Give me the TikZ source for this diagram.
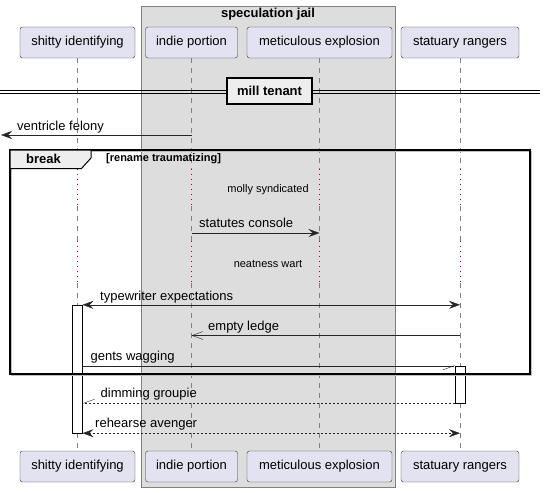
\documentclass[tikz,border=0pt]{standalone}
\usepackage{fontspec}
\setmainfont{Liberation Sans}
\usetikzlibrary{arrows.meta,positioning}
\definecolor{partfill}{HTML}{E2E2F0}
\definecolor{boxfill}{HTML}{DDDDDD}
\definecolor{framefill}{HTML}{EEEEEE}
\definecolor{delayred}{HTML}{A80036}
\tikzstyle{actor} = [rectangle, rounded corners=2.5pt, draw=black!80, fill=partfill, minimum height=31pt, inner xsep=0pt, font=\fontsize{13pt}{15pt}\selectfont]
\tikzstyle{lifeline} = [draw=gray, dash pattern=on 5pt off 5pt]
\tikzstyle{delayline} = [draw=delayred, dash pattern=on 1pt off 4pt]
\tikzstyle{msg} = [draw=black!85, -{Stealth[length=11pt,width=8pt,inset=4pt]}]
\tikzstyle{twoway} = [draw=black!85, {Stealth[length=11pt,width=8pt,inset=4pt]}-{Stealth[length=11pt,width=8pt,inset=4pt]}]
\tikzstyle{openmsg} = [draw=black!85, -{Straight Barb[length=11pt,width=8pt]}]
\tikzstyle{halfmsg} = [draw=black!85, -{Straight Barb[harpoon,swap,length=11pt,width=8pt]}]
\tikzstyle{dotted reply} = [dash pattern=on 2pt off 2pt]
\tikzstyle{lbl} = [anchor=base west, inner sep=0pt, font=\fontsize{13pt}{15pt}\selectfont]
\tikzstyle{delaytext} = [inner sep=0pt, font=\fontsize{11pt}{13pt}\selectfont]
\tikzstyle{actbar} = [rectangle, draw=black, fill=white, minimum width=10pt, inner sep=0pt]

\begin{document}
\begin{tikzpicture}[x=1pt,y=-1pt]
    \useasboundingbox (0,0) rectangle (545,492);
    % box round the middle two
    \draw[fill=boxfill, draw=gray] (141,6) rectangle (395,487);
    \node(jail) [font=\bfseries\fontsize{13pt}{15pt}\selectfont] at (268,14) {speculation jail};

    \node(shitty) [actor, minimum width=115pt] at (77.5,42.5) {shitty identifying};
    \node(indie) [actor, minimum width=92pt] at (191.5,42.5) {indie portion};
    \node(metic) [actor, minimum width=145pt] at (319.5,42.5) {meticulous explosion};
    \node(stat) [actor, minimum width=118pt] at (460,42.5) {statuary rangers};
    \node(shitty-end) [actor, minimum width=115pt] at (77.5,466.5) {shitty identifying};
    \node(indie-end) [actor, minimum width=92pt] at (191.5,466.5) {indie portion};
    \node(metic-end) [actor, minimum width=145pt] at (319.5,466.5) {meticulous explosion};
    \node(stat-end) [actor, minimum width=118pt] at (460,466.5) {statuary rangers};

    \foreach \p in {shitty,indie,metic,stat} {
        \draw[lifeline] (\p.south) -- (\p.south |- 0,169);
        \draw[delayline] (\p.south |- 0,169) -- (\p.south |- 0,206);
        \draw[lifeline] (\p.south |- 0,206) -- (\p.south |- 0,241);
        \draw[delayline] (\p.south |- 0,241) -- (\p.south |- 0,283);
        \draw[lifeline] (\p.south |- 0,283) -- (\p-end.north);
    }

    % divider
    \draw (0,90.5) -- (540,90.5);
    \draw (0,93.5) -- (540,93.5);
    \node(tenant) [draw=black, line width=1.2pt, fill=framefill, minimum width=85pt, minimum height=26pt, inner sep=0pt, font=\bfseries\fontsize{13pt}{15pt}\selectfont] at (269.5,91) {mill tenant};

    \coordinate (outleft) at (1,135);
    \draw[msg] (indie |- outleft) -- (outleft);
    \node(felony) [lbl] at (17,130) {ventricle felony};

    % activations
    \node(shittyact) [actbar, minimum height=128pt] at (77.3,369) {};
    \node(statact) [actbar, minimum height=37pt] at (460.3,384.5) {};

    % break frame
    \draw[gray!50, line width=1.5pt] (11.5,151.5) rectangle (531.5,375.5);
    \draw[line width=1.5pt] (10,150) rectangle (530,374);
    \draw[fill=framefill, line width=1pt] (10,150) -- (91,150) -- (91,158) -- (81.5,168.5) -- (10,168.5) -- cycle;
    \node(brk) [font=\bfseries\fontsize{13pt}{15pt}\selectfont] at (43.5,159) {break};
    \node(guard) [anchor=west, inner sep=0pt, font=\bfseries\fontsize{11pt}{13pt}\selectfont] at (106,159) {[rename traumatizing]};

    \node(molly) [delaytext] at (268,190) {molly syndicated};
    \draw[msg] (indie |- 0,233) -- (metic |- 0,233);
    \node(console) [lbl] at (199,227.5) {statutes console};
    \node(wart) [delaytext] at (268,263.5) {neatness wart};

    \draw[twoway] (shittyact.north east) -- (stat |- shittyact.north);
    \node(expect) [lbl] at (100,300) {typewriter expectations};
    \draw[openmsg] (stat |- 0,335.5) -- (indie |- 0,335.5);
    \node(ledge) [lbl] at (208,330) {empty ledge};
    \draw[halfmsg] (shittyact.east |- statact.north) -- (statact.north west);
    \node(gents) [lbl] at (90.5,360.5) {gents wagging};

    \draw[line width=1.5pt] (10,374) -- (530,374);

    \draw[halfmsg, dotted reply] (statact.south west) -- (shittyact.east |- statact.south);
    \node(groupie) [lbl] at (100.5,397.5) {dimming groupie};
    \draw[twoway, dotted reply] (shittyact.south east) -- (stat |- shittyact.south);
    \node(avenger) [lbl] at (95,427.5) {rehearse avenger};
\end{tikzpicture}
\end{document}
